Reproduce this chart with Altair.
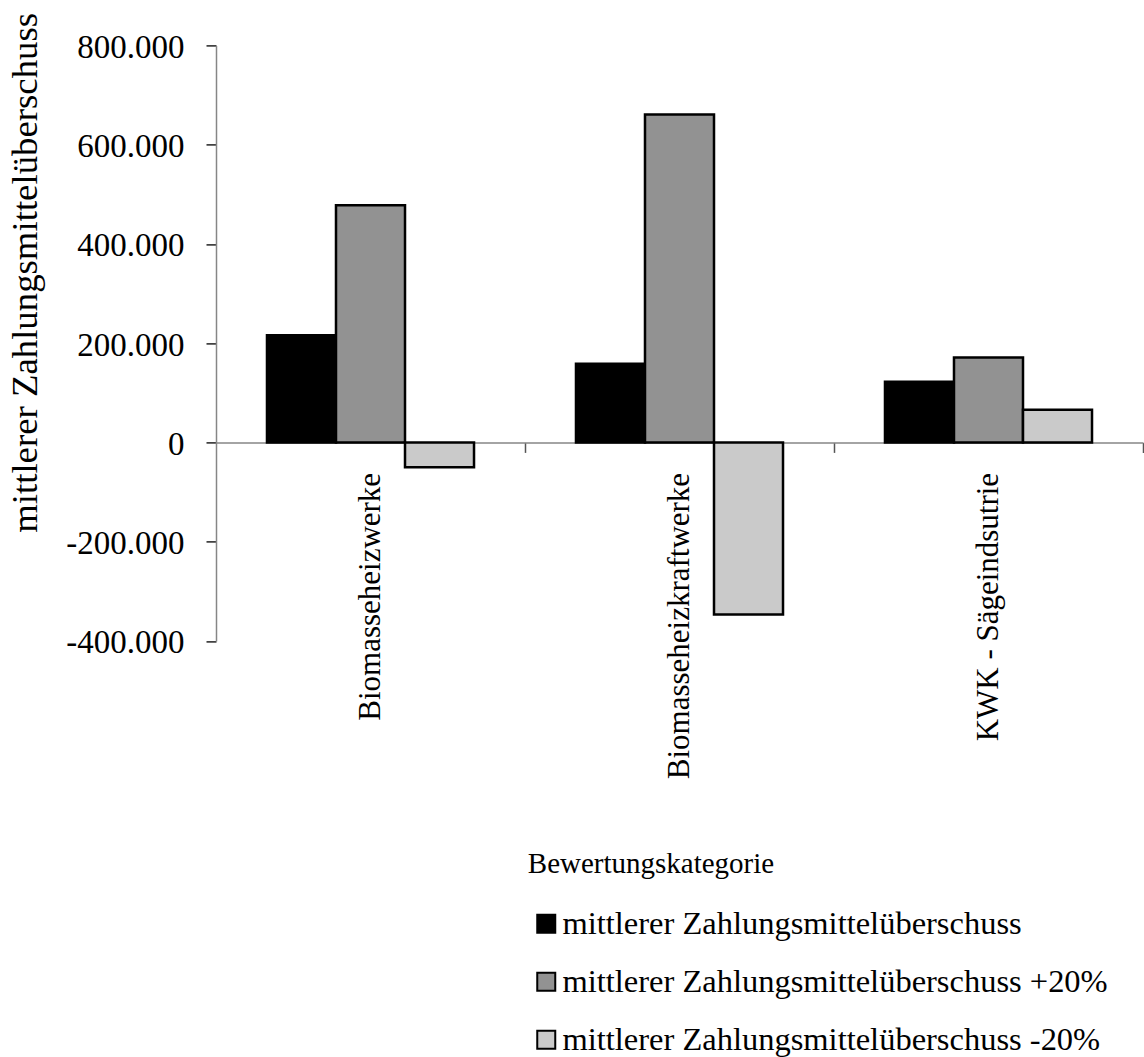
import altair as alt
import pandas as pd

# Kategorien, Reihen und Werte (Euro)
categories = ["Biomasseheizwerke", "Biomasseheizkraftwerke", "KWK - Sägeindsutrie"]
series = [
    "mittlerer Zahlungsmittelüberschuss",
    "mittlerer Zahlungsmittelüberschuss +20%",
    "mittlerer Zahlungsmittelüberschuss -20%",
]
values_mean = [216000, 158500, 122000]
values_plus20 = [478000, 661000, 171000]
values_minus20 = [-50000, -347000, 66000]
colors = ["#000000", "#929292", "#cacaca"]
y_ticks = [-400000, -200000, 0, 200000, 400000, 600000, 800000]

rows = []
for i, cat in enumerate(categories):
    for name, vals in zip(series, [values_mean, values_plus20, values_minus20]):
        rows.append({"Kategorie": cat, "Reihe": name, "Wert": vals[i]})
df = pd.DataFrame(rows)

FONT = "Liberation Serif"
W, H = 927, 595.5
zero_px = H * 800 / 1200  # Lage der Nulllinie von oben
half_step = W / 3 / 2     # Ticks auf den Grenzen zwischen den Kategorien

# Tausenderpunkt statt Komma
label_expr = (
    "(datum.value < 0 ? '-' : '') + "
    "replace(format(abs(datum.value), ',d'), ',', '.')"
)

chart = (
    alt.Chart(df)
    .mark_bar(stroke="black", strokeWidth=2.5)
    .encode(
        x=alt.X(
            "Kategorie:N",
            sort=categories,
            scale=alt.Scale(paddingInner=0.33, paddingOuter=0.165),
            axis=alt.Axis(
                title="Bewertungskategorie",
                orient="bottom",
                offset=zero_px - H,
                labelAngle=-90,
                labelFont=FONT,
                labelFontSize=31,
                labelColor="black",
                labelPadding=20,
                labelLimit=0,
                labelOffset=-half_step,
                tickOffset=half_step,
                tickSize=10,
                tickColor="#555555",
                tickWidth=1.5,
                domainColor="#868686",
                domainWidth=1.5,
                titleFont=FONT,
                titleFontSize=29,
                titleFontWeight="normal",
                titleColor="black",
                titleX=434.5,
                titleY=430,
                titleAlign="center",
                titleBaseline="alphabetic",
            ),
        ),
        xOffset=alt.XOffset(
            "Reihe:N", sort=series, scale=alt.Scale(paddingInner=0, paddingOuter=0)
        ),
        y=alt.Y(
            "Wert:Q",
            scale=alt.Scale(domain=[-400000, 800000], nice=False, zero=False),
            axis=alt.Axis(
                title="mittlerer Zahlungsmittelüberschuss",
                values=y_ticks,
                labelExpr=label_expr,
                labelFont=FONT,
                labelFontSize=33,
                labelColor="black",
                labelPadding=22,
                labelOffset=2,
                tickSize=10,
                tickColor="#222222",
                tickWidth=1.5,
                domainColor="#868686",
                domainWidth=1.5,
                grid=False,
                titleFont=FONT,
                titleFontSize=36.8,
                titleFontWeight="normal",
                titleColor="black",
                titleAngle=-90,
                titleX=-180,
                titleY=227,
                titleAlign="center",
                titleBaseline="alphabetic",
            ),
        ),
        color=alt.Color(
            "Reihe:N",
            sort=series,
            scale=alt.Scale(domain=series, range=colors),
            legend=alt.Legend(
                title=None,
                orient="none",
                legendX=314,
                legendY=862,
                direction="vertical",
                symbolType="square",
                symbolSize=324,
                symbolStrokeColor="black",
                symbolStrokeWidth=2,
                symbolOpacity=1,
                labelFont=FONT,
                labelFontSize=32.5,
                labelColor="black",
                labelOffset=0,
                labelLimit=0,
                rowPadding=25,
            ),
        ),
    )
    .properties(
        width=W,
        height=H,
        autosize=alt.AutoSizeParams(type="none"),
        padding={"left": 216, "top": 45.4, "right": 1, "bottom": 416},
        background="white",
    )
    .configure(font=FONT)
    .configure_view(stroke=None)
)

chart.save("out.html", embed_options={"renderer": "svg", "actions": False})
